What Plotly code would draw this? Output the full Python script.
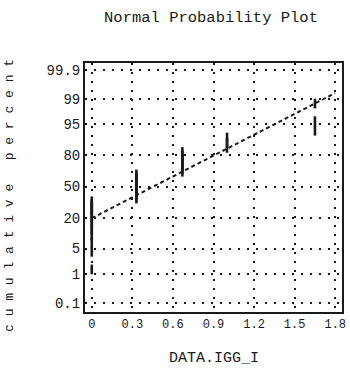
import plotly.graph_objects as go
from statistics import NormalDist

# ---- data ----
data_values = [0.0, 0.33, 0.67, 1.0, 1.65]      # distinct observed values of DATA.IGG_I
data_counts = [13, 10, 7, 3, 3]                  # number of tied observations at each value
fit_mean = 0.456                                 # fitted normal line: mean
fit_sd = 0.542                                   # fitted normal line: standard deviation
fit_x = [0.0, 1.8]                               # extent of the fitted line
pct_ticks = [0.1, 1, 5, 20, 50, 80, 95, 99, 99.9]
pct_labels = ["0.1", "1", "5", "20", "50", "80", "95", "99", "99.9"]
x_ticks = [0, 0.3, 0.6, 0.9, 1.2, 1.5, 1.8]
x_labels = ["0", "0.3", "0.6", "0.9", "1.2", "1.5", "1.8"]

nd = NormalDist()
obs = []
for v, c in zip(data_values, data_counts):
    obs += [v] * c
obs.sort()
n = len(obs)
zq = [nd.inv_cdf((i + 0.5) / n) for i in range(n)]
fit_z = [(x - fit_mean) / fit_sd for x in fit_x]
tickz = [nd.inv_cdf(p / 100.0) for p in pct_ticks]

FONT = "Liberation Mono"
INK = "#1a1a1a"
W, H = 350, 384

fig = go.Figure()
fig.add_trace(go.Scatter(
    x=fit_x, y=fit_z, mode="lines",
    line=dict(color=INK, width=2, dash="4px,3px"),
    hoverinfo="skip", showlegend=False))
fig.add_trace(go.Scatter(
    x=obs, y=zq, mode="markers",
    marker=dict(symbol="line-ns", size=7, line=dict(color=INK, width=2.6)),
    showlegend=False))

fig.update_layout(
    width=W, height=H,
    margin=dict(l=85, r=4, t=63, b=72),
    paper_bgcolor="white", plot_bgcolor="white",
    font=dict(family=FONT, color=INK, size=14),
    title=dict(text="Normal Probability Plot", x=211 / W, xanchor="center",
               xref="container", y=1 - 17 / H, yanchor="middle", yref="container",
               font=dict(family=FONT, size=15.5, color=INK)),
    annotations=[
        dict(text="c u m u l a t i v e   p e r c e n t", xref="paper", yref="paper",
             x=0, y=0.466, xanchor="center", yanchor="middle", xshift=-75,
             textangle=-90, showarrow=False, font=dict(family=FONT, size=13, color=INK)),
        dict(text="DATA.IGG_I", xref="paper", yref="paper", x=0.5, y=0,
             xanchor="center", yanchor="middle", yshift=-46, showarrow=False,
             font=dict(family=FONT, size=15, color=INK)),
    ],
)
fig.update_xaxes(
    range=[-0.05, 1.85], tickvals=x_ticks, ticktext=x_labels,
    showgrid=True, gridcolor=INK, gridwidth=1.5, griddash="2px,7px",
    zeroline=False, showline=True, linecolor=INK, linewidth=2, mirror=True,
    ticks="", tickfont=dict(family=FONT, size=12, color=INK))
fig.update_yaxes(
    range=[-3.329, 3.276], tickvals=tickz, ticktext=pct_labels,
    showgrid=True, gridcolor=INK, gridwidth=1.5, griddash="2px,7px",
    zeroline=False, showline=True, linecolor=INK, linewidth=2, mirror=True,
    ticks="", tickfont=dict(family=FONT, size=14, color=INK))

fig.write_html(
    "out.html",
    config={"displayModeBar": False},
    post_script="document.documentElement.style.margin='0';"
                "document.body.style.margin='0';"
                "document.body.style.overflow='hidden';")
